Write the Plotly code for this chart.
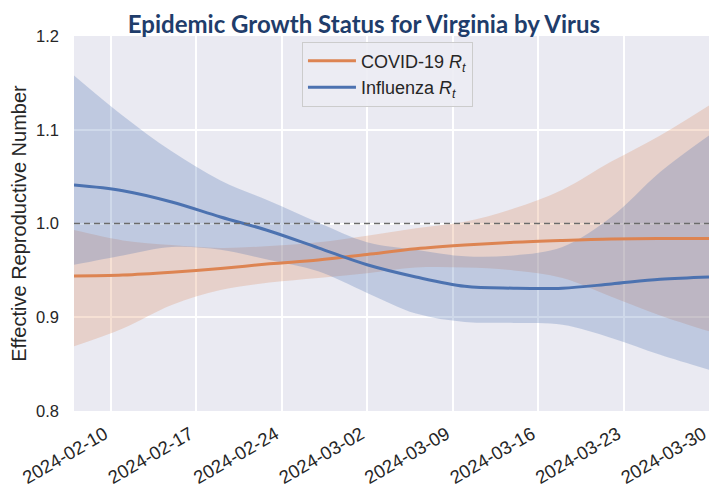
import plotly.graph_objects as go

# ---- data ----
dates = ["2024-02-07", "2024-02-11", "2024-02-15", "2024-02-19", "2024-02-23",
         "2024-02-27", "2024-03-02", "2024-03-06", "2024-03-10", "2024-03-14",
         "2024-03-18", "2024-03-22", "2024-03-26", "2024-03-30"]

covid_rt = [0.944, 0.945, 0.948, 0.952, 0.957, 0.961, 0.967, 0.973, 0.977, 0.980,
            0.982, 0.9835, 0.984, 0.984]
covid_hi = [0.993, 0.982, 0.977, 0.974, 0.976, 0.980, 0.987, 0.995, 1.002, 1.016,
            1.036, 1.066, 1.094, 1.126]
covid_lo = [0.869, 0.888, 0.913, 0.929, 0.937, 0.942, 0.947, 0.953, 0.953, 0.950,
            0.942, 0.922, 0.902, 0.885]

flu_rt = [1.041, 1.035, 1.023, 1.007, 0.992, 0.974, 0.956, 0.943, 0.933, 0.931,
          0.931, 0.9355, 0.9405, 0.943]
flu_hi = [1.158, 1.115, 1.077, 1.046, 1.024, 1.001, 0.980, 0.972, 0.965, 0.966,
          0.975, 1.007, 1.055, 1.094]
flu_lo = [0.956, 0.966, 0.975, 0.972, 0.961, 0.949, 0.926, 0.904, 0.895, 0.894,
          0.892, 0.878, 0.860, 0.844]

tick_dates = ["2024-02-10", "2024-02-17", "2024-02-24", "2024-03-02",
              "2024-03-09", "2024-03-16", "2024-03-23", "2024-03-30"]
y_ticks = [0.8, 0.9, 1.0, 1.1, 1.2]
y_tick_labels = ["0.8", "0.9", "1.0", "1.1", "1.2"]

ORANGE = "#dd8452"
BLUE = "#4c72b0"
ORANGE_FILL = "rgba(221,132,82,0.25)"
BLUE_FILL = "rgba(76,114,176,0.27)"

fig = go.Figure()

# COVID band
fig.add_trace(go.Scatter(x=dates, y=covid_lo, mode="lines", line=dict(width=0, shape="spline"),
                         showlegend=False, hoverinfo="skip"))
fig.add_trace(go.Scatter(x=dates, y=covid_hi, mode="lines", line=dict(width=0, shape="spline"),
                         fill="tonexty", fillcolor=ORANGE_FILL, showlegend=False, hoverinfo="skip"))
# Flu band
fig.add_trace(go.Scatter(x=dates, y=flu_lo, mode="lines", line=dict(width=0, shape="spline"),
                         showlegend=False, hoverinfo="skip"))
fig.add_trace(go.Scatter(x=dates, y=flu_hi, mode="lines", line=dict(width=0, shape="spline"),
                         fill="tonexty", fillcolor=BLUE_FILL, showlegend=False, hoverinfo="skip"))

# reference line at 1.0
fig.add_hline(y=1.0, line=dict(color="#6b6b6b", width=1.6, dash="6px,4px"))

fig.add_trace(go.Scatter(x=dates, y=covid_rt, mode="lines", name="COVID-19 <i>R</i><sub><i>t</i></sub>",
                         line=dict(color=ORANGE, width=3, shape="spline")))
fig.add_trace(go.Scatter(x=dates, y=flu_rt, mode="lines", name="Influenza <i>R</i><sub><i>t</i></sub>",
                         line=dict(color=BLUE, width=3, shape="spline")))

# the page body has an 8px margin, so the figure is 8px smaller on each axis
fig.update_layout(
    width=709, height=481,
    margin=dict(l=66, r=8, t=28, b=78, autoexpand=False),
    paper_bgcolor="white",
    plot_bgcolor="#eaeaf2",
    font=dict(family="Liberation Sans, Arial, sans-serif", color="#262626", size=16),
    title=dict(text="<b>Epidemic Growth Status for Virginia by Virus</b>",
               x=0.502, xanchor="center", y=0.9665, yanchor="middle",
               font=dict(family="Lato, sans-serif", size=24, color="#1f3d6b")),
    legend=dict(x=0.359, y=0.985, xanchor="left", yanchor="top", traceorder="normal",
                bgcolor="rgba(236,236,243,0.9)", bordercolor="#cccccc", borderwidth=1,
                itemwidth=48, font=dict(size=18, color="#262626")),
    showlegend=True,
)

fig.update_xaxes(
    type="date",
    range=[dates[0], dates[-1]],
    tickvals=tick_dates, ticktext=tick_dates,
    tickangle=-30, tickfont=dict(size=18.5),
    showgrid=True, gridcolor="white", gridwidth=2,
    zeroline=False, showline=False, ticks="", automargin=False,
    ticklabelstandoff=8, ticklabelshift=-6,
)
fig.update_yaxes(
    range=[0.8, 1.2],
    tickvals=y_ticks, ticktext=y_tick_labels,
    tickfont=dict(size=16.5),
    showgrid=True, gridcolor="white", gridwidth=2,
    zeroline=False, showline=False, ticks="", ticklabelstandoff=14, automargin=False,
    title=dict(text="Effective Reproductive Number", font=dict(size=20), standoff=6),
)

fig.write_html("out.html")
